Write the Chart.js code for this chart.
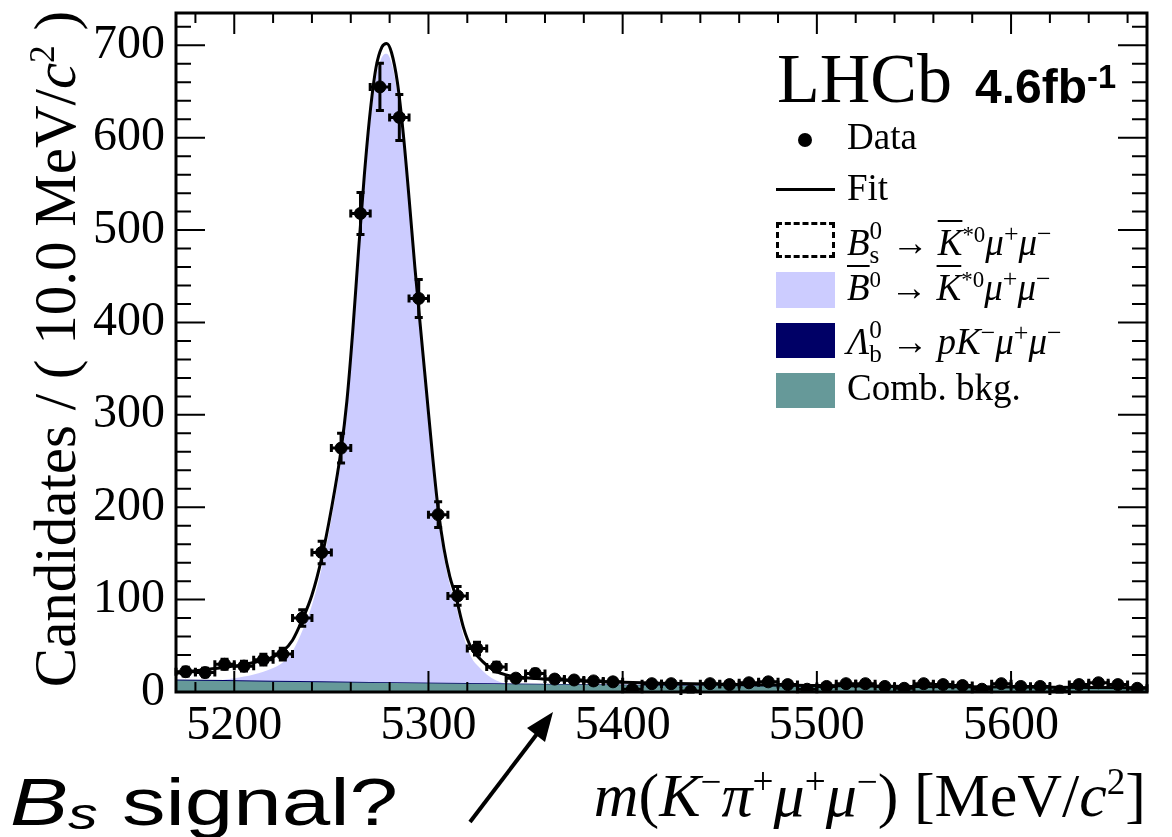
<!DOCTYPE html>
<html>
<head>
<meta charset="utf-8">
<script src="https://cdn.jsdelivr.net/npm/chart.js@4.4.1/dist/chart.umd.min.js"></script>
<style>
  body { margin: 0; background: #fff; }
  #wrap { position: relative; width: 1172px; height: 837px; overflow: hidden; }
  canvas { position: absolute; left: 0; top: 0; }
  .t { position: absolute; white-space: nowrap; line-height: 1; font-family: "Liberation Serif", "Times New Roman", serif; color: #000; }
  .box { position: absolute; box-sizing: border-box; }
  sup, sub { line-height: 0; }
  .ss { display: inline-block; vertical-align: -0.32em; line-height: 0.95; font-size: 0.68em; text-align: left; }
  .ol { text-decoration: overline; text-decoration-thickness: 2px; }
</style>
</head>
<body>
<div id="wrap">
  <canvas id="myChart" width="1172" height="837"></canvas>

  <!-- legend -->
  <div class="t" style="left:777px; top:44px; font-size:70px;">LHCb</div>
  <div class="t" style="left:975px; top:61px; font-size:48px; font-family:'Liberation Sans', Arial, sans-serif; font-weight:bold;">4.6fb<span style="font-size:0.68em; vertical-align:15px;">-1</span></div>

  <div class="box" style="left:798px; top:133px; width:14px; height:14px; border-radius:50%; background:#000;"></div>
  <div class="t" style="left:847px; top:118px; font-size:37px;">Data</div>

  <div class="box" style="left:776px; top:188px; width:59px; height:3px; background:#000;"></div>
  <div class="t" style="left:847px; top:169px; font-size:37px;">Fit</div>

  <div class="box" style="left:776px; top:222px; width:59px; height:36px; border:3px dashed #000;"></div>
  <div class="t" style="left:847px; top:219px; font-size:37px;"><i>B</i><span class="ss">0<br>s</span> &#8594; <i class="ol">K</i><sup style="font-size:0.62em">*0</sup><i>&#956;</i><sup style="font-size:0.7em">+</sup><i>&#956;</i><sup style="font-size:0.7em">&#8722;</sup></div>

  <div class="box" style="left:776px; top:272px; width:59px; height:36px; background:#ccccff;"></div>
  <div class="t" style="left:847px; top:269px; font-size:37px;"><i class="ol">B</i><sup style="font-size:0.62em">0</sup> &#8594; <i class="ol">K</i><sup style="font-size:0.62em">*0</sup><i>&#956;</i><sup style="font-size:0.7em">+</sup><i>&#956;</i><sup style="font-size:0.7em">&#8722;</sup></div>

  <div class="box" style="left:776px; top:323px; width:59px; height:35px; background:#000066;"></div>
  <div class="t" style="left:847px; top:318px; font-size:37px;"><i>&#923;</i><span class="ss">0<br>b</span> &#8594; <i>pK</i><sup style="font-size:0.7em">&#8722;</sup><i>&#956;</i><sup style="font-size:0.7em">+</sup><i>&#956;</i><sup style="font-size:0.7em">&#8722;</sup></div>

  <div class="box" style="left:776px; top:373px; width:59px; height:35px; background:#669999;"></div>
  <div class="t" style="left:847px; top:369px; font-size:37px;">Comb. bkg.</div>

  <!-- axis titles -->
  <div class="t" style="left:-305px; top:314px; width:720px; height:70px; line-height:70px; text-align:center; font-size:59px; transform:rotate(-90deg);">Candidates / ( 10.0 MeV/<i>c</i><sup style="font-size:0.6em">2</sup> )</div>
  <div class="t" style="right:26px; top:764px; font-size:62px;"><i>m</i>(<i>K</i><sup style="font-size:0.6em">&#8722;</sup><i>&#960;</i><sup style="font-size:0.6em">+</sup><i>&#956;</i><sup style="font-size:0.6em">+</sup><i>&#956;</i><sup style="font-size:0.6em">&#8722;</sup>) [MeV/<i>c</i><sup style="font-size:0.6em">2</sup>]</div>

  <!-- annotation -->
  <div class="t" style="left:10px; top:769px; font-size:66px; font-family:'Liberation Sans', Arial, sans-serif; transform-origin:0 0; transform:scaleX(1.32);"><i>B</i><span style="font-size:0.68em; vertical-align:-0.1em;"><i>s</i></span> signal?</div>
  <svg style="position:absolute; left:0; top:0;" width="1172" height="837">
    <line x1="470" y1="822" x2="540" y2="730" stroke="#000" stroke-width="4"/>
    <polygon points="553,712 527,728 545,742" fill="#000"/>
  </svg>
</div>

<script>
// bin centres, 10 MeV wide
const massBins = [5175, 5185, 5195, 5205, 5215, 5225, 5235, 5245, 5255, 5265,
                  5275, 5285, 5295, 5305, 5315, 5325, 5335, 5345, 5355, 5365,
                  5375, 5385, 5395, 5405, 5415, 5425, 5435, 5445, 5455, 5465,
                  5475, 5485, 5495, 5505, 5515, 5525, 5535, 5545, 5555, 5565,
                  5575, 5585, 5595, 5605, 5615, 5625, 5635, 5645, 5655, 5665];
const counts = [22, 21, 30, 28, 35, 41, 80, 151, 264, 518,
                655, 622, 426, 192, 104, 47, 27, 15, 20, 14,
                13, 12, 11, 3, 9, 9, 1, 9, 8, 10,
                11, 8, 3, 6, 9, 9, 6, 4, 9, 8,
                7, 3, 9, 6, 6, 1, 8, 10, 8, 4];
const countErr = [4.7, 4.6, 5.5, 5.3, 5.9, 6.4, 8.9, 12.3, 16.2, 22.8,
                  25.6, 24.9, 20.6, 13.9, 10.2, 6.9, 5.2, 3.9, 4.5, 3.7,
                  3.6, 3.5, 3.3, 1.7, 3.0, 3.0, 1.0, 3.0, 2.8, 3.2,
                  3.3, 2.8, 1.7, 2.4, 3.0, 3.0, 2.4, 2.0, 3.0, 2.8,
                  2.6, 1.7, 3.0, 2.4, 2.4, 1.0, 2.8, 3.2, 2.8, 2.0];
const binHalfWidth = 5;

// fit curve and the B0 component
const fitMass = [5170, 5180, 5190, 5200, 5210, 5220, 5225, 5230, 5235, 5240,
                 5245, 5250, 5255, 5258, 5261, 5264, 5267, 5270, 5273, 5276,
                 5278.5, 5281, 5284, 5287, 5290, 5293, 5296, 5299, 5302, 5305,
                 5308, 5311, 5314, 5318, 5322, 5326, 5330, 5335, 5340, 5350,
                 5360, 5375, 5390, 5420, 5460, 5500, 5550, 5600, 5670];
const fitTotal = [21, 23, 25.5, 28, 32, 38, 44, 56, 78, 105,
                  145, 198, 262, 315, 390, 478, 560, 628, 676, 698,
                  702, 692, 660, 605, 535, 460, 392, 325, 258, 198,
                  155, 125, 104, 70, 48, 37, 29, 22, 18.5, 15.5,
                  14, 12.3, 11, 9.5, 8, 7, 6, 5.3, 4.5];
const b0Signal = [7.5, 9.5, 12, 15, 19, 26, 32, 44, 66, 94,
                  134, 187, 251, 304, 379, 467, 549, 617, 665, 687,
                  691, 681, 649, 594, 524, 449, 381, 314, 247, 188,
                  146, 116, 95, 61, 38, 27, 19, 12.5, 9, 7,
                  5.5, 4, 3, 2, 1.2, 0.8, 0.5, 0.3, 0.2];

// background components
const bkgMass = [5170, 5220, 5270, 5320, 5370, 5420, 5470, 5520, 5570, 5620, 5670];
const combBkg = [12.5, 11.2, 10.0, 9.0, 8.0, 7.1, 6.3, 5.6, 5.0, 4.4, 3.9];
const lambdaB = [1.0, 1.0, 0.9, 0.8, 0.6, 0.5, 0.4, 0.3, 0.2, 0.2, 0.1];

const yTicks = [0, 100, 200, 300, 400, 500, 600, 700];
const xTicks = [5200, 5300, 5400, 5500, 5600];

const xMin = 5170, xMax = 5670, yMax = 735;
const serif = "'Liberation Serif', 'Times New Roman', serif";

const toPts = (xs, ys) => xs.map((x, i) => ({ x: x, y: ys[i] }));

// ROOT style frame with inward ticks on all four sides + error bars
const rootStyle = {
  id: 'rootStyle',
  beforeDatasetDraw(chart, args) {
    if (args.index !== 0) return;
    const ctx = chart.ctx, xs = chart.scales.x, ys = chart.scales.y;
    ctx.save();
    ctx.strokeStyle = '#000';
    ctx.lineWidth = 3;
    counts.forEach((n, i) => {
      const px = xs.getPixelForValue(massBins[i]);
      const py = ys.getPixelForValue(n);
      const x1 = xs.getPixelForValue(massBins[i] - binHalfWidth);
      const x2 = xs.getPixelForValue(massBins[i] + binHalfWidth);
      const y1 = ys.getPixelForValue(n - countErr[i]);
      const y2 = ys.getPixelForValue(n + countErr[i]);
      ctx.beginPath();
      ctx.moveTo(x1, py); ctx.lineTo(x2, py);
      ctx.moveTo(px, y1); ctx.lineTo(px, y2);
      // end caps
      ctx.moveTo(x1, py - 4); ctx.lineTo(x1, py + 4);
      ctx.moveTo(x2, py - 4); ctx.lineTo(x2, py + 4);
      ctx.moveTo(px - 4, y1); ctx.lineTo(px + 4, y1);
      ctx.moveTo(px - 4, y2); ctx.lineTo(px + 4, y2);
      ctx.stroke();
    });
    ctx.restore();
  },
  afterDraw(chart) {
    const ctx = chart.ctx, a = chart.chartArea;
    const xs = chart.scales.x, ys = chart.scales.y;
    ctx.save();
    ctx.strokeStyle = '#000';
    ctx.lineWidth = 2;
    ctx.beginPath();
    for (let v = 5180; v < xMax; v += 20) {
      const p = xs.getPixelForValue(v);
      const len = v % 100 === 0 ? 21 : 10;
      ctx.moveTo(p, a.bottom); ctx.lineTo(p, a.bottom - len);
      ctx.moveTo(p, a.top); ctx.lineTo(p, a.top + len);
    }
    for (let v = 20; v < yMax; v += 20) {
      const p = ys.getPixelForValue(v);
      const len = v % 100 === 0 ? 29 : 15;
      ctx.moveTo(a.left, p); ctx.lineTo(a.left + len, p);
      ctx.moveTo(a.right, p); ctx.lineTo(a.right - len, p);
    }
    ctx.stroke();
    ctx.lineWidth = 3;
    ctx.strokeRect(a.left, a.top, a.right - a.left, a.bottom - a.top);
    ctx.restore();
  }
};

const fillLine = (label, pts, color, order) => ({
  type: 'line', label: label, data: pts, order: order,
  fill: 'origin', backgroundColor: color, borderColor: color, borderWidth: 0,
  pointRadius: 0, cubicInterpolationMode: 'monotone'
});

const myChart = new Chart(document.getElementById('myChart'), {
  type: 'scatter',
  data: {
    datasets: [
      {
        label: 'Data', data: toPts(massBins, counts), order: 0,
        pointRadius: 6, pointBackgroundColor: '#000', pointBorderColor: '#000', showLine: false
      },
      {
        type: 'line', label: 'Fit', data: toPts(fitMass, fitTotal), order: 1,
        borderColor: '#000', borderWidth: 3, pointRadius: 0, fill: false,
        cubicInterpolationMode: 'monotone'
      },
      fillLine('Comb. bkg.', toPts(bkgMass, combBkg), '#669999', 2),
      fillLine('Lambda_b', bkgMass.map((m, i) => ({ x: m, y: combBkg[i] + lambdaB[i] })), '#000066', 3),
      fillLine('B0', toPts(fitMass, b0Signal), '#ccccff', 4)
    ]
  },
  options: {
    responsive: false,
    animation: false,
    layout: { padding: { top: 13, right: 25, left: 0, bottom: 0 } },
    plugins: { legend: { display: false }, tooltip: { enabled: false } },
    scales: {
      x: {
        type: 'linear', min: xMin, max: xMax,
        grid: { display: false, drawTicks: false }, border: { display: false },
        afterBuildTicks: s => { s.ticks = xTicks.map(v => ({ value: v })); },
        ticks: { color: '#000', padding: 6, maxRotation: 0, font: { family: serif, size: 48 },
                 callback: v => String(v) },
        afterFit: s => { s.height = 145; s.paddingLeft = 0; s.paddingRight = 0; }
      },
      y: {
        min: 0, max: yMax,
        grid: { display: false, drawTicks: false }, border: { display: false },
        afterBuildTicks: s => { s.ticks = yTicks.map(v => ({ value: v })); },
        ticks: { color: '#000', padding: 11, font: { family: serif, size: 48 } },
        afterFit: s => { s.width = 176; s.paddingTop = 0; s.paddingBottom = 0; }
      }
    }
  },
  plugins: [rootStyle]
});
</script>
</body>
</html>
